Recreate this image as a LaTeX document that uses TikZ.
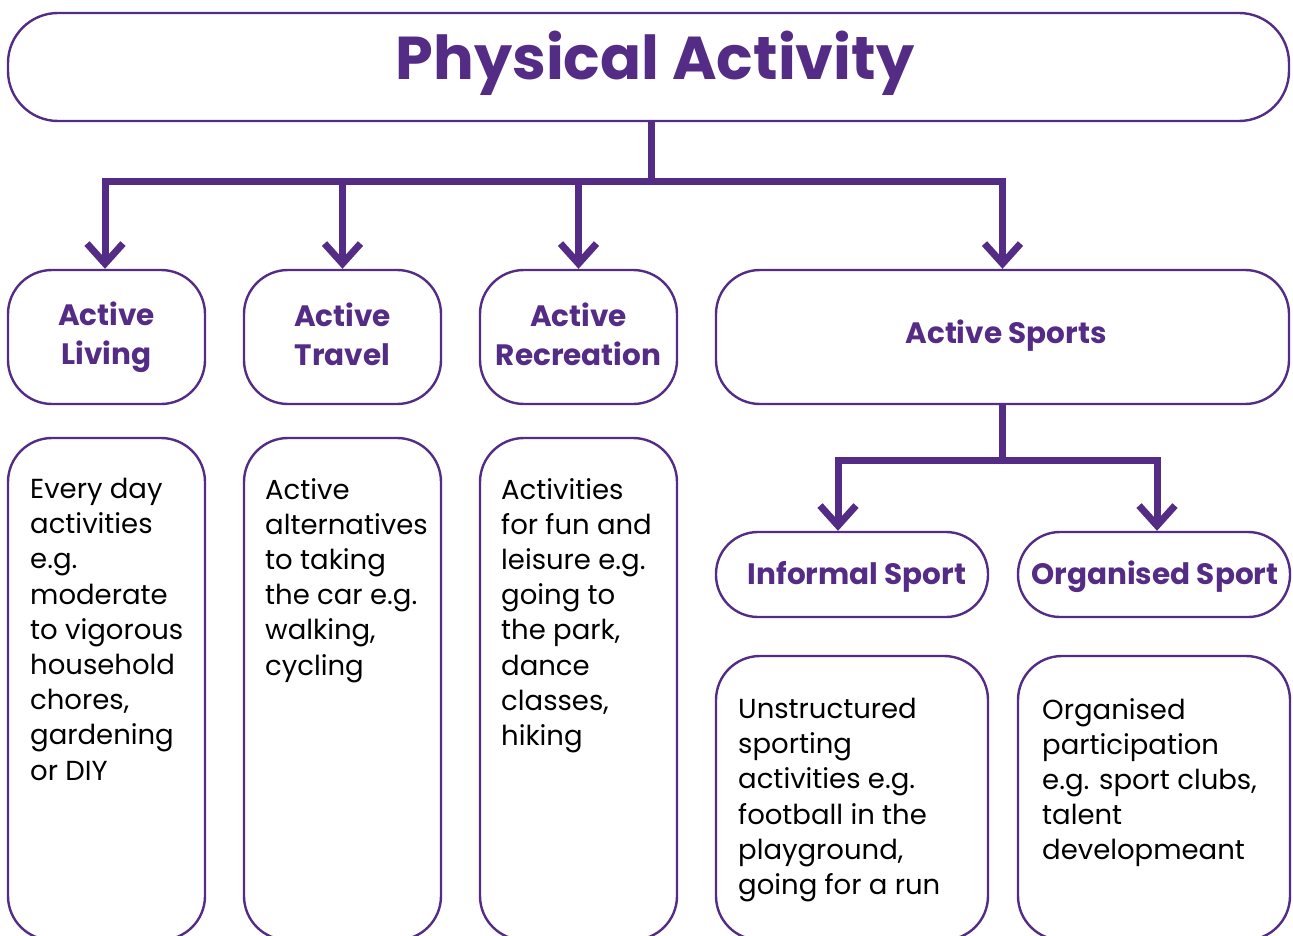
\documentclass[tikz,border=0pt]{standalone}
\usepackage{fontspec}
\setmainfont{Poppins}
\usetikzlibrary{arrows.meta,calc}
\definecolor{pa}{RGB}{84,44,133}
\begin{document}
\begin{tikzpicture}[x=1pt,y=-1pt,
  box/.style={draw=pa, line width=2.4pt, rounded corners=44pt, inner sep=0pt},
  pill/.style={draw=pa, line width=2.4pt, rounded corners=42pt, inner sep=0pt},
  head/.style={text=pa, font=\fontsize{29.5}{39}\selectfont\bfseries, align=center},
  desc/.style={text=black, font=\fontsize{27.5}{35.2}\selectfont, align=left, inner sep=0pt, anchor=north west},
  conn/.style={draw=pa, line width=7pt},
  arr/.style={conn, -{Straight Barb[sharp, length=20pt, width=36pt]}}]
\useasboundingbox (0,0) rectangle (1293,936);
\clip (0,0) rectangle (1293,936);
% title
\node[box, rounded corners=50pt, minimum width=1281pt, minimum height=108pt] (title) at (648.5,67) {};
\node[text=pa, font=\fontsize{60.5}{70}\selectfont\bfseries] (titletext) at (655,63) {Physical Activity};
% row 1
\node[box, minimum width=197pt, minimum height=134pt] (living) at (106.5,337) {};
\node[head] (livingt) at (106.5,337) {Active\\Living};
\node[box, minimum width=197pt, minimum height=134pt] (travel) at (342.5,337) {};
\node[head] (travelt) at (342.5,334) {Active\\Travel};
\node[box, minimum width=197pt, minimum height=134pt] (recr) at (578.5,337) {};
\node[head] (recrt) at (578.5,334) {Active\\Recreation};
\node[box, minimum width=573pt, minimum height=134pt] (sports) at (1002.5,337) {};
\node[head] (sportst) at (1006,336) {Active Sports};
% row 1 descriptions
\node[box, minimum width=197pt, minimum height=502pt] (d1) at (106.5,689) {};
\node[desc] (d1t) at (30,478) {Every day\\activities\\e.g.\\moderate\\to vigorous\\household\\chores,\\gardening\\or DIY};
\node[box, minimum width=197pt, minimum height=502pt] (d2) at (342.5,689) {};
\node[desc] (d2t) at (265,478) {Active\\alternatives\\to taking\\the car e.g.\\walking,\\cycling};
\node[box, minimum width=197pt, minimum height=502pt] (d3) at (578.5,689) {};
\node[desc] (d3t) at (501,478) {Activities\\for fun and\\leisure e.g.\\going to\\the park,\\dance\\classes,\\hiking};
% sports subtree
\node[pill, minimum width=272pt, minimum height=85pt] (inf) at (852,574.5) {};
\node[head] (inft) at (857,577) {Informal Sport};
\node[pill, minimum width=272pt, minimum height=85pt] (org) at (1154,574.5) {};
\node[head] (orgt) at (1155,577) {Organised Sport};
\node[box, minimum width=272pt, minimum height=284pt] (d4) at (852,798) {};
\node[desc] (d4t) at (738,698) {Unstructured\\sporting\\activities e.g.\\football in the\\playground,\\going for a run};
\node[box, minimum width=272pt, minimum height=284pt] (d5) at (1154,798) {};
\node[desc] (d5t) at (1042,698) {Organised\\participation\\e.g. sport clubs,\\talent\\developmeant};
% connectors
\coordinate (j1) at (651,182);
\draw[conn] (j1 |- title.south) -- (j1);
\draw[arr] (j1) -| ([xshift=-1.5pt]living.north);
\draw[arr] (j1) -| (travel.north);
\draw[arr] (j1) -| (recr.north);
\draw[arr] (j1) -| (sports.north);
\coordinate (j2) at (1002.5,460);
\draw[conn] (sports.south) -- (j2);
\draw[arr] (j2) -| ([xshift=-14pt]inf.north);
\draw[arr] (j2) -| ([xshift=3pt]org.north);
\end{tikzpicture}
\end{document}
